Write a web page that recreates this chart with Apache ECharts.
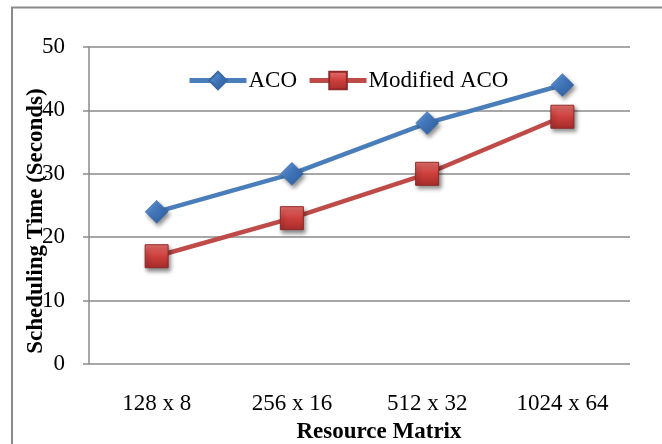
<!DOCTYPE html>
<html>
<head>
<meta charset="utf-8">
<script src="https://cdn.jsdelivr.net/npm/echarts@6/dist/echarts.min.js"></script>
<style>html,body{margin:0;padding:0;background:#fff}#c{width:662px;height:444px}</style>
</head>
<body>
<div id="c"></div>
<script>
var categories = ['128 x 8', '256 x 16', '512 x 32', '1024 x 64'];
var acoValues = [24, 30, 38, 44];
var modifiedValues = [17, 23, 30, 39];
var yTicks = [0, 10, 20, 30, 40, 50];

var font = '"Liberation Serif", "Times New Roman", serif';
var chart = echarts.init(document.getElementById('c'));
var diamond = 'path://M0,-1L1,0L0,1L-1,0Z';
chart.setOption({
  animation: false,
  backgroundColor: '#fff',
  grid: {left: 89, right: 32, top: 47, bottom: 80},
  legend: {
    left: 182, top: 64, itemWidth: 57, itemHeight: 22, itemGap: 10,
    lineStyle: {width: 5},
    textStyle: {fontFamily: font, fontSize: 23, color: '#000', padding: [0, 0, 0, -3]},
    data: ['ACO', 'Modified ACO']
  },
  xAxis: {
    type: 'category', data: categories, boundaryGap: true,
    axisLine: {show: false}, axisTick: {show: false},
    axisLabel: {fontFamily: font, fontSize: 23, color: '#000', margin: 28}
  },
  yAxis: {
    type: 'value', min: yTicks[0], max: yTicks[yTicks.length - 1], interval: 10,
    axisLine: {show: true, lineStyle: {color: '#8a8a8a', width: 1.5}},
    axisTick: {show: true, length: 6, lineStyle: {color: '#8a8a8a', width: 1.5}},
    splitLine: {show: true, lineStyle: {color: '#8a8a8a', width: 1.5}},
    axisLabel: {fontFamily: font, fontSize: 23, color: '#000', margin: 24}
  },
  graphic: [
    {type: 'rect', shape: {x: 12, y: 7.5, width: 700, height: 500}, style: {fill: 'none', stroke: '#8a8a8a', lineWidth: 2}, silent: true},
    {type: 'text', x: 379, y: 432, style: {text: 'Resource Matrix', font: 'bold 23px ' + font, fill: '#000', align: 'center', verticalAlign: 'middle'}},
    {type: 'text', x: 36, y: 221, rotation: Math.PI / 2, style: {text: 'Scheduling Time (Seconds)', font: 'bold 23px ' + font, fill: '#000', align: 'center', verticalAlign: 'middle'}}
  ],
  series: [
    {
      name: 'ACO', type: 'line', data: acoValues,
      symbol: diamond, symbolSize: 23,
      lineStyle: {color: '#4A7EBB', width: 4.5},
      itemStyle: {
        color: new echarts.graphic.LinearGradient(0, 0, 1, 1, [{offset: 0, color: '#6a9ee0'}, {offset: 0.5, color: '#3f74b8'}, {offset: 1, color: '#2a5a98'}]),
        borderColor: '#3a68a5', borderWidth: 0.5,
        shadowColor: 'rgba(0,0,0,0.45)', shadowBlur: 4, shadowOffsetX: 2, shadowOffsetY: 3
      }
    },
    {
      name: 'Modified ACO', type: 'line', data: modifiedValues,
      symbol: 'rect', symbolSize: 23,
      lineStyle: {color: '#BE4B48', width: 4.5},
      itemStyle: {
        color: new echarts.graphic.LinearGradient(0, 0, 0, 1, [{offset: 0, color: '#e8716e'}, {offset: 0.5, color: '#cc3f3c'}, {offset: 1, color: '#a52d2a'}]),
        borderColor: '#8f2a28', borderWidth: 1,
        shadowColor: 'rgba(0,0,0,0.45)', shadowBlur: 4, shadowOffsetX: 2, shadowOffsetY: 3
      }
    }
  ]
});
</script>
</body>
</html>
